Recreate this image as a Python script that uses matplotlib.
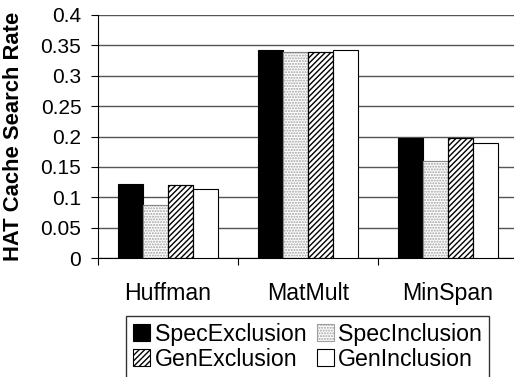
import matplotlib
matplotlib.use("Agg")
import matplotlib.pyplot as plt
import numpy as np

plt.rcParams['font.family'] = ['Liberation Sans', 'DejaVu Sans']
plt.rcParams['hatch.linewidth'] = 1.0

benchmarks = ["Huffman", "MatMult", "MinSpan"]
series = ["SpecExclusion", "SpecInclusion", "GenExclusion", "GenInclusion"]
spec_exclusion = [0.121, 0.343, 0.197]
spec_inclusion = [0.087, 0.339, 0.160]
gen_exclusion = [0.120, 0.339, 0.197]
gen_inclusion = [0.114, 0.342, 0.190]
y_ticks = [0, 0.05, 0.1, 0.15, 0.2, 0.25, 0.3, 0.35, 0.4]
y_tick_labels = ["0", "0.05", "0.1", "0.15", "0.2", "0.25", "0.3", "0.35", "0.4"]

values = [spec_exclusion, spec_inclusion, gen_exclusion, gen_inclusion]
styles = [
    dict(facecolor="black", edgecolor="black", hatch=None),
    dict(facecolor="white", edgecolor="#a0a0a0", hatch="......"),
    dict(facecolor="white", edgecolor="black", hatch="//////"),
    dict(facecolor="white", edgecolor="black", hatch=None),
]

fig = plt.figure(figsize=(5.14, 3.77), dpi=100)
ax = fig.add_axes([98 / 514, 1 - 258 / 377, 420 / 514, 243 / 377])

x = np.arange(len(benchmarks))
bar_w = 0.18
handles = []
for i, (vals, st) in enumerate(zip(values, styles)):
    offs = (i - 1.5) * bar_w
    b = ax.bar(x + offs, vals, width=bar_w, facecolor=st["facecolor"],
               edgecolor=st["edgecolor"], hatch=st["hatch"], linewidth=0.8,
               label=series[i], zorder=3)
    if st["hatch"] is not None:
        # solid outline drawn over the hatched fill
        ax.bar(x + offs, vals, width=bar_w, facecolor="none",
               edgecolor="#888888" if i == 1 else "black", linewidth=0.8, zorder=4)
    handles.append(b)

ax.set_xlim(-0.5, len(benchmarks) - 0.5)
ax.set_ylim(0, 0.4)
ax.set_yticks(y_ticks)
ax.set_yticklabels(y_tick_labels, fontsize=15)
ax.yaxis.grid(True, color="#555555", linewidth=1.0, zorder=0)
ax.set_axisbelow(True)

ax.set_xticks(np.arange(len(benchmarks) + 1) - 0.5)
ax.set_xticklabels([])
ax.set_xticks(x, minor=True)
ax.set_xticklabels(benchmarks, minor=True, fontsize=16.7)
ax.tick_params(axis="x", which="minor", length=0, pad=17)
ax.tick_params(axis="x", which="major", direction="out", length=5, color="black")
ax.tick_params(axis="y", direction="out", length=5, color="black", pad=7)

for s in ["top", "right"]:
    ax.spines[s].set_visible(False)
ax.spines["left"].set_color("black")
ax.spines["bottom"].set_color("black")

ax.set_ylabel("HAT Cache Search Rate", fontsize=15.8, fontweight="bold")
ax.yaxis.set_label_coords(-0.176, 0.5)

order = [0, 2, 1, 3]
leg = fig.legend([handles[k] for k in order], [series[k] for k in order],
                 ncol=2, loc="center", bbox_to_anchor=(307.5 / 514, 1 - 347 / 377),
                 fontsize=16.7, frameon=True, fancybox=False, edgecolor="black",
                 handlelength=0.73, handleheight=0.75, handletextpad=0.18,
                 columnspacing=0.45, borderpad=0.3, labelspacing=0.08,
                 borderaxespad=0)
leg.get_frame().set_linewidth(1.0)

fig.savefig("out.png", dpi=100)
